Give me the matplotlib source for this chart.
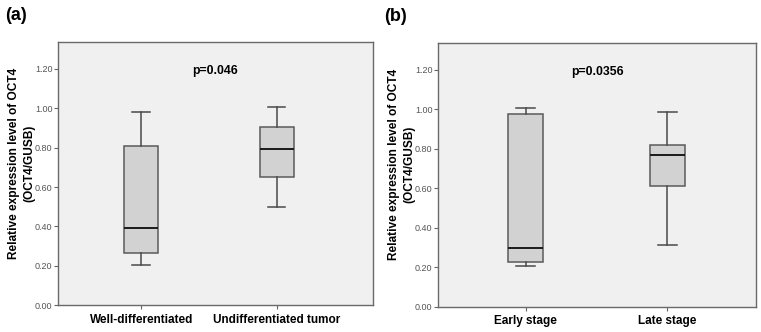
import matplotlib.pyplot as plt

plt.rcParams["font.family"] = ["Liberation Sans", "DejaVu Sans"]

# box statistics (whislo, q1, median, q3, whishi)
labels_a = ["Well-differentiated", "Undifferentiated tumor"]
lo_a = [0.203, 0.500]
q1_a = [0.264, 0.651]
med_a = [0.390, 0.791]
q3_a = [0.808, 0.906]
hi_a = [0.980, 1.004]

labels_b = ["Early stage", "Late stage"]
lo_b = [0.207, 0.315]
q1_b = [0.226, 0.610]
med_b = [0.297, 0.768]
q3_b = [0.978, 0.822]
hi_b = [1.007, 0.986]

yticks = [0.0, 0.2, 0.4, 0.6, 0.8, 1.0, 1.2]
ylabel = "Relative expression level of OCT4\n(OCT4/GUSB)"

fig = plt.figure(figsize=(7.61, 3.32), dpi=100)
ax_a = fig.add_axes([0.0762, 0.0804, 0.4138, 0.7926])
ax_b = fig.add_axes([0.5756, 0.0762, 0.4178, 0.7934])


def draw(ax, labels, lo, q1, med, q3, hi, ptext, xlim, letter):
    stats = []
    for i in range(len(labels)):
        stats.append({"whislo": lo[i], "q1": q1[i], "med": med[i],
                      "q3": q3[i], "whishi": hi[i], "fliers": []})
    ax.bxp(stats, positions=[1, 2], widths=0.25, patch_artist=True,
           showfliers=False,
           boxprops=dict(facecolor="#d2d2d2", edgecolor="#5a5a5a", linewidth=1.1),
           medianprops=dict(color="#1a1a1a", linewidth=1.4),
           whiskerprops=dict(color="#4a4a4a", linewidth=1.1),
           capprops=dict(color="#4a4a4a", linewidth=1.1),
           capwidths=0.13)
    ax.set_facecolor("#f0f0f0")
    ax.set_xlim(*xlim)
    ax.set_ylim(0, 1.335)
    ax.set_yticks(yticks)
    ax.set_yticklabels([f"{v:.2f}" for v in yticks], fontsize=6.5, color="#555555")
    ax.set_xticks([1, 2])
    ax.set_xticklabels(labels, fontsize=8.5, fontweight="bold")
    ax.tick_params(axis="both", length=3, width=0.8, color="#666666", pad=1)
    ax.tick_params(axis="x", pad=3)
    for s in ax.spines.values():
        s.set_color("#6a6a6a")
        s.set_linewidth(1.0)
    ax.set_ylabel(ylabel, fontsize=8.6, fontweight="bold", linespacing=1.4)
    ax.yaxis.set_label_coords(-0.072, 0.54)
    ax.text(0.5, 0.89, ptext, transform=ax.transAxes, ha="center",
            va="center", fontsize=8.8, fontweight="bold")
    ax.text(-0.168, 1.10, letter, transform=ax.transAxes, fontsize=13,
            fontweight="bold", va="center")


draw(ax_a, labels_a, lo_a, q1_a, med_a, q3_a, hi_a, "p=0.046",
     (0.385, 2.711), "(a)")
draw(ax_b, labels_b, lo_b, q1_b, med_b, q3_b, hi_b, "p=0.0356",
     (0.381, 2.626), "(b)")

fig.savefig("out.png", dpi=100)
